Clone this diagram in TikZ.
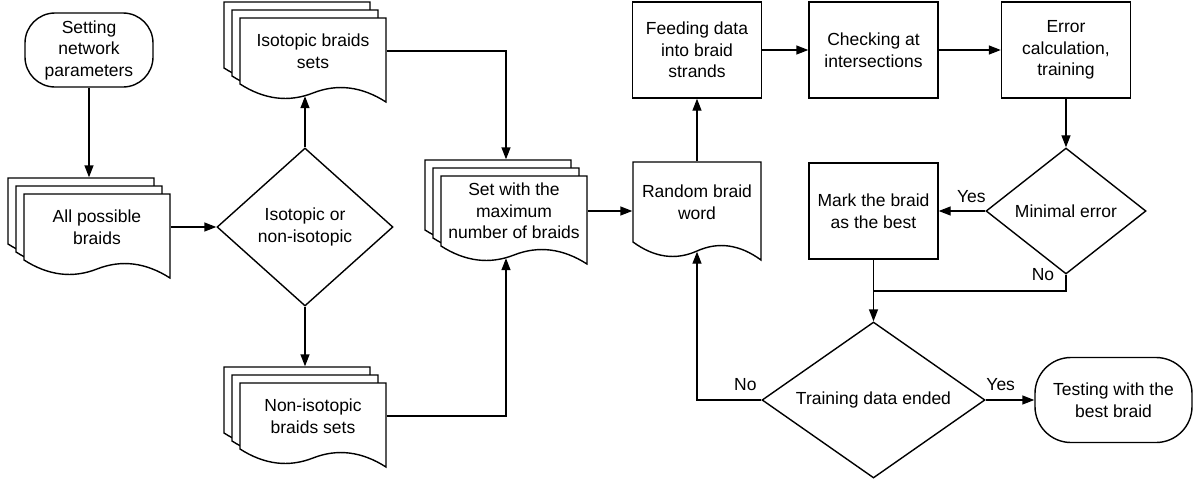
\documentclass[tikz,border=0pt]{standalone}
\usepackage{fontspec}
\setmainfont{Liberation Sans}
\usepackage{tikz}
\usetikzlibrary{arrows.meta}
\usetikzlibrary{shapes.geometric}

% one paper sheet: left, top, width, height of the left edge
\newcommand{\sheet}[4]{%
  \filldraw[fill=white] ({#1},{#2}) -- ({#1+#3},{#2}) -- ({#1+#3},{#2+#4+18})
    .. controls ({#1+5*#3/6},{#2+#4+2.43}) and ({#1+2*#3/3},{#2+#4-0.57}) .. ({#1+#3/2},{#2+#4+9})
    .. controls ({#1+#3/3},{#2+#4+18.57}) and ({#1+#3/6},{#2+#4+15.57}) .. ({#1},{#2+#4}) -- cycle;}
% three sheets one over the other
\newcommand{\sheets}[4]{%
  \sheet{#1}{#2}{#3}{#4}
  \sheet{#1+8}{#2+8}{#3}{#4}
  \sheet{#1+16}{#2+16}{#3}{#4}}

\begin{document}
\begin{tikzpicture}[x=1pt,y=-1pt,line width=1.4pt,>={Triangle[length=12pt,width=9pt]},
    txt/.style={align=center,font=\fontsize{17.5}{21.5}\selectfont},
    lbl/.style={txt,anchor=base,inner sep=0pt},
    box/.style={txt,draw,minimum width=129pt,minimum height=96pt,inner sep=0pt},
    term/.style={txt,draw,inner sep=0pt},
    dec/.style={txt,draw,diamond,inner sep=0pt},
    doc/.style={txt,inner sep=0pt,minimum width=146pt}]
  \useasboundingbox (0,0) rectangle (1195,480);
  % paper stacks
  \sheets{8}{178}{146}{66}
  \sheets{224}{2}{146}{66}
  \sheets{425}{160}{146}{70}
  \sheets{224}{367}{146}{66}
  \sheet{633}{162}{128}{80}
  % left part
  \node[term,rounded corners=30pt,minimum width=128pt,minimum height=74pt] (setp) at (89,50) {Setting\\network\\parameters};
  \node[doc,minimum height=66pt] (allb) at (97,227) {All possible\\braids};
  \node[dec,aspect=1.11,minimum width=176pt,minimum height=158pt] (isod) at (305,227) {Isotopic or\\non-isotopic};
  \node[doc,minimum height=66pt] (isob) at (313,51) {Isotopic braids\\sets};
  \node[doc,minimum height=66pt] (nonb) at (313,416) {Non-isotopic\\braids sets};
  \node[doc,minimum height=70pt] (setb) at (514,211) {Set with the\\maximum\\number of braids};
  % training loop
  \node[txt,inner sep=0pt,minimum width=128pt,minimum height=80pt] (randw) at (697,202) {Random braid\\word};
  \node[box] (feed) at (697,50) {Feeding data\\into braid\\strands};
  \node[box] (check) at (873.5,50) {Checking at\\intersections};
  \node[box] (err) at (1066,50) {Error\\calculation,\\training};
  \node[dec,aspect=1.27,minimum width=160pt,minimum height=126pt] (minim) at (1066,211) {Minimal error};
  \node[box] (mark) at (873.5,211) {Mark the braid\\as the best};
  \node[dec,aspect=1.43,minimum width=223pt,minimum height=156pt] (train) at (873.5,400) {Training data ended};
  \node[term,rounded corners=36pt,minimum width=157pt,minimum height=85pt] (test) at (1113.5,400) {Testing with the\\best braid};
  \coordinate (mrg) at (873.5,291);
  % arrows
  \draw[->] (setp) -- ([shift={(-8pt,16pt)}]allb.north);
  \draw[->] (allb) -- (isod);
  \draw[->] (isod) -- ([shift={(-8pt,-11.5pt)}]isob.south);
  \draw[->] (isod) -- ([shift={(-8pt,16pt)}]nonb.north);
  \draw[->] (isob) -| ([shift={(-8pt,16pt)}]setb.north);
  \draw[->] (nonb) -| ([shift={(-8pt,-11.5pt)}]setb.south);
  \draw[->] (setb) -- (setb -| randw.west);
  \draw[->] (randw) -- (feed);
  \draw[->] (feed) -- (check);
  \draw[->] (check) -- (err);
  \draw[->] (err) -- (minim);
  \draw[->] (minim) -- (mark);
  \draw (minim.south) |- (mrg);
  \draw[->] (mark) -- (train);
  \draw[->] (train) -| ([yshift=-9pt]randw.south);
  \draw[->] (train) -- (test);
  % yes / no
  \node[lbl] (yes1) at ([xshift=-14pt,yshift=9pt]minim.west) {Yes};
  \node[lbl] (no1) at ([xshift=-23pt,yshift=-6pt]minim.south) {No};
  \node[lbl] (no2) at ([xshift=-16pt,yshift=10pt]train.west) {No};
  \node[lbl] (yes2) at ([xshift=15pt,yshift=10pt]train.east) {Yes};
\end{tikzpicture}
\end{document}
